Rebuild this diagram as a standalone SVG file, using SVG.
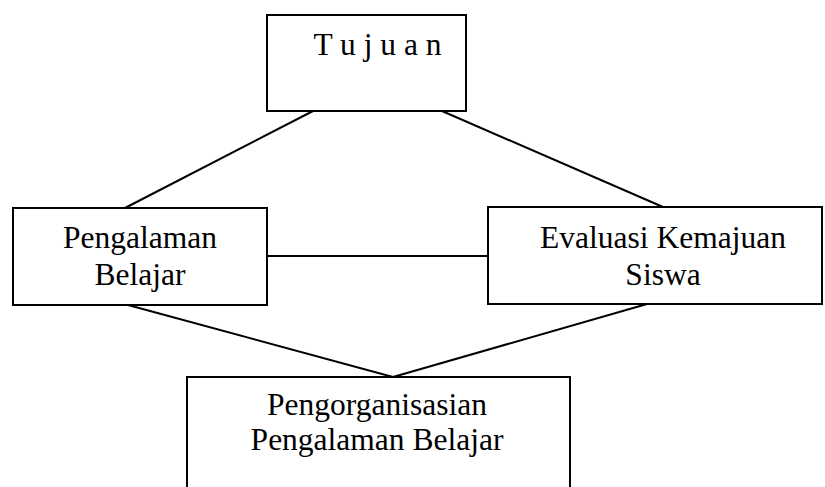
<svg xmlns="http://www.w3.org/2000/svg" width="825" height="487" viewBox="0 0 825 487">
<style>
.box{fill:#fff;stroke:#000;stroke-width:2}
.t{font-family:"Liberation Serif","Times New Roman",serif;font-size:31.5px;fill:#000;text-anchor:middle}
.c{stroke:#000;stroke-width:2;fill:none}
</style>
<rect width="825" height="487" fill="#fff"/>
<g id="connectors">
<line class="c" x1="313" y1="111" x2="125" y2="208"/>
<line class="c" x1="442" y1="111" x2="663" y2="207"/>
<line class="c" x1="267" y1="256" x2="488" y2="256"/>
<line class="c" x1="128" y1="305" x2="393" y2="377"/>
<line class="c" x1="647" y1="304" x2="393" y2="377"/>
</g>
<g id="tujuan">
<rect class="box" x="267" y="15" width="199" height="96"/>
<text class="t" x="377.5" y="55" xml:space="preserve">T u j u a n</text>
</g>
<g id="pengalaman">
<rect class="box" x="13" y="208" width="254" height="97"/>
<text class="t" x="140" y="248">Pengalaman</text>
<text class="t" x="140" y="285">Belajar</text>
</g>
<g id="evaluasi">
<rect class="box" x="488" y="207" width="334" height="97"/>
<text class="t" x="663" y="248">Evaluasi Kemajuan</text>
<text class="t" x="663" y="285">Siswa</text>
</g>
<g id="pengorganisasian">
<rect class="box" x="187" y="377" width="383" height="120"/>
<text class="t" x="377" y="415">Pengorganisasian</text>
<text class="t" x="377" y="450">Pengalaman Belajar</text>
</g>
</svg>
